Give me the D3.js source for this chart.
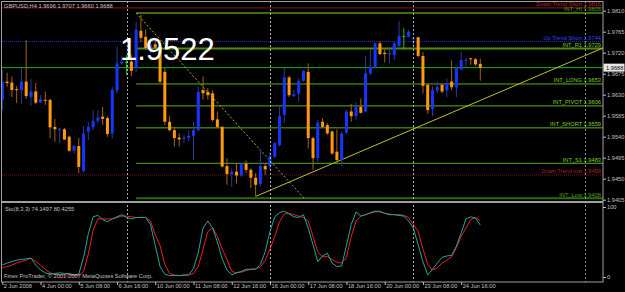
<!DOCTYPE html>
<html lang="en">

<head>
    <meta charset="UTF-8">
    <title>GBPUSD,H4</title>
    <script src="https://d3js.org/d3.v7.min.js"></script>
    <style>
        body { margin: 0; background: #000; }
        svg { display: block; }
        text { font-family: "Liberation Sans", Arial, sans-serif; }
    </style>
</head>

<body>
    <svg id="main" width="625" height="292"></svg>
    <script>
        // H4 bars, 2 Jun 16:00 .. 25 Jun 08:00
        const opens = [
            1.9619, 1.9658, 1.9656, 1.9642, 1.9640, 1.9658, 1.9625, 1.9637, 1.9614, 1.9619,
            1.9619, 1.9561, 1.9554, 1.9556, 1.9540, 1.9510, 1.9520, 1.9467, 1.9551, 1.9560,
            1.9574, 1.9583, 1.9580, 1.9547, 1.9639, 1.9697, 1.9700, 1.9701, 1.9687, 1.9767,
            1.9754, 1.9726, 1.9738, 1.9726, 1.9679, 1.9572, 1.9554, 1.9538, 1.9536, 1.9538,
            1.9542, 1.9554, 1.9640, 1.9636, 1.9633, 1.9577, 1.9561, 1.9477, 1.9460, 1.9465,
            1.9457, 1.9482, 1.9469, 1.9452, 1.9439, 1.9477, 1.9477, 1.9497, 1.9522, 1.9587,
            1.9667, 1.9627, 1.9632, 1.9660, 1.9679, 1.9537, 1.9494, 1.9572, 1.9565, 1.9551,
            1.9508, 1.9490, 1.9549, 1.9594, 1.9584, 1.9604, 1.9594, 1.9676, 1.9689, 1.9740,
            1.9720, 1.9717, 1.9715, 1.9734, 1.9756, 1.9754, 1.9749, 1.9753, 1.9713, 1.9651,
            1.9599, 1.9639, 1.9651, 1.9639, 1.9658, 1.9646, 1.9684, 1.9703, 1.9708, 1.9706,
            1.9696
        ];
        const highs = [
            1.9683, 1.9677, 1.9669, 1.9649, 1.9687, 1.9747, 1.9664, 1.9655, 1.9629, 1.9636,
            1.9621, 1.9578, 1.9559, 1.9559, 1.9542, 1.9522, 1.9537, 1.9563, 1.9572, 1.9596,
            1.9597, 1.9604, 1.9584, 1.9647, 1.9733, 1.9712, 1.9715, 1.9715, 1.9786, 1.9801,
            1.9770, 1.9747, 1.9744, 1.9732, 1.9687, 1.9584, 1.9561, 1.9547, 1.9544, 1.9554,
            1.9572, 1.9647, 1.9669, 1.9644, 1.9640, 1.9594, 1.9563, 1.9494, 1.9472, 1.9483,
            1.9483, 1.9489, 1.9472, 1.9462, 1.9512, 1.9483, 1.9508, 1.9529, 1.9604, 1.9687,
            1.9670, 1.9640, 1.9665, 1.9683, 1.9697, 1.9540, 1.9576, 1.9580, 1.9569, 1.9554,
            1.9556, 1.9551, 1.9597, 1.9610, 1.9613, 1.9622, 1.9713, 1.9726, 1.9742, 1.9744,
            1.9727, 1.9726, 1.9744, 1.9788, 1.9772, 1.9769, 1.9754, 1.9754, 1.9722, 1.9655,
            1.9649, 1.9658, 1.9653, 1.9665, 1.9703, 1.9690, 1.9722, 1.9709, 1.9709, 1.9709,
            1.9707
        ];
        const lows = [
            1.9597, 1.9647, 1.9625, 1.9612, 1.9610, 1.9621, 1.9606, 1.9610, 1.9612, 1.9608,
            1.9537, 1.9529, 1.9527, 1.9533, 1.9508, 1.9504, 1.9462, 1.9463, 1.9533, 1.9554,
            1.9569, 1.9565, 1.9540, 1.9537, 1.9633, 1.9694, 1.9672, 1.9670, 1.9679, 1.9743,
            1.9726, 1.9719, 1.9726, 1.9655, 1.9565, 1.9551, 1.9519, 1.9519, 1.9526, 1.9529,
            1.9490, 1.9551, 1.9619, 1.9620, 1.9572, 1.9558, 1.9474, 1.9437, 1.9433, 1.9440,
            1.9454, 1.9462, 1.9430, 1.9412, 1.9434, 1.9458, 1.9469, 1.9494, 1.9519, 1.9570,
            1.9625, 1.9625, 1.9615, 1.9658, 1.9515, 1.9469, 1.9486, 1.9559, 1.9544, 1.9501,
            1.9483, 1.9477, 1.9546, 1.9572, 1.9576, 1.9590, 1.9592, 1.9672, 1.9687, 1.9715,
            1.9699, 1.9697, 1.9704, 1.9733, 1.9727, 1.9753, 1.9733, 1.9710, 1.9632, 1.9589,
            1.9584, 1.9634, 1.9633, 1.9625, 1.9640, 1.9625, 1.9683, 1.9689, 1.9694, 1.9692,
            1.9660
        ];
        const closes = [
            1.9657, 1.9655, 1.9640, 1.9640, 1.9658, 1.9627, 1.9637, 1.9613, 1.9620, 1.9618,
            1.9560, 1.9556, 1.9557, 1.9534, 1.9510, 1.9520, 1.9475, 1.9547, 1.9561, 1.9574,
            1.9581, 1.9578, 1.9546, 1.9640, 1.9697, 1.9701, 1.9700, 1.9681, 1.9769, 1.9752,
            1.9730, 1.9737, 1.9731, 1.9658, 1.9572, 1.9554, 1.9537, 1.9534, 1.9539, 1.9542,
            1.9554, 1.9636, 1.9633, 1.9629, 1.9576, 1.9561, 1.9476, 1.9460, 1.9465, 1.9457,
            1.9482, 1.9469, 1.9452, 1.9437, 1.9477, 1.9470, 1.9499, 1.9526, 1.9584, 1.9667,
            1.9629, 1.9631, 1.9660, 1.9681, 1.9537, 1.9494, 1.9570, 1.9561, 1.9547, 1.9504,
            1.9490, 1.9547, 1.9594, 1.9584, 1.9604, 1.9591, 1.9676, 1.9690, 1.9740, 1.9717,
            1.9717, 1.9719, 1.9740, 1.9756, 1.9756, 1.9765, 1.9751, 1.9713, 1.9649, 1.9597,
            1.9640, 1.9647, 1.9637, 1.9655, 1.9646, 1.9687, 1.9704, 1.9705, 1.9706, 1.9695,
            1.9688
        ];

        // Stochastic (8,3,3)
        const stochK = [
            17, 20, 22, 24, 25, 26, 27, 17, 10, 6,
            4, 5, 6, 5, 5, 3, 4, 28, 62, 86,
            88, 82, 79, 83, 86, 89, 85, 83, 85, 85,
            85, 75, 45, 15, 4, 2, 2, 2, 3, 3,
            12, 35, 70, 80, 70, 50, 26, 10, 3, 6,
            8, 11, 11, 11, 18, 36, 65, 86, 92, 94,
            90, 86, 85, 89, 70, 46, 22, 30, 34, 20,
            15, 16, 45, 75, 93, 87, 89, 92, 94, 94,
            91, 89, 89, 88, 87, 80, 70, 46, 22, 3,
            11, 20, 28, 30, 31, 44, 63, 83, 86, 84,
            74.1497
        ];
        const stochD = [
            13, 15, 17, 20, 22, 24, 27, 22, 17, 11,
            6, 4, 3, 3, 3, 2, 2, 8, 33, 67,
            83, 83, 83, 83, 85, 87, 87, 86, 85, 85,
            85, 80, 60, 45, 18, 5, 3, 2, 2, 3,
            5, 15, 40, 65, 70, 58, 40, 25, 8, 6,
            7, 9, 11, 12, 14, 24, 40, 58, 79, 90,
            91, 89, 87, 85, 80, 58, 36, 29, 29, 25,
            21, 20, 28, 58, 80, 87, 89, 91, 93, 93,
            91, 90, 89, 89, 88, 85, 75, 65, 40, 18,
            10, 13, 20, 24, 29, 42, 58, 70, 82, 85,
            80.4255
        ];

        const priceTicks = [1.9810, 1.9765, 1.9720, 1.9675, 1.9630, 1.9585, 1.9540, 1.9495, 1.9450, 1.9405];
        const dateLabels = ['2 Jun 2008', '4 Jun 00:00', '5 Jun 08:00', '6 Jun 16:00', '10 Jun 00:00',
            '11 Jun 08:00', '12 Jun 16:00', '16 Jun 00:00', '17 Jun 08:00', '18 Jun 16:00',
            '20 Jun 00:00', '23 Jun 08:00', '24 Jun 16:00'];
        const dateBars = [0, 8, 16, 24, 32, 40, 48, 56, 64, 72, 80, 88, 96];
        const weekBars = [26, 56, 86];
        const shiftBar = 122;

        const levelNames = ['Down Trend Short', 'INT_HI', 'Up Trend Short', 'INT_R1', 'INT_LONG',
            'INT_PIVOT', 'INT_SHORT', 'INT_S1', 'Down Trend low', 'INT_Low'];
        const levelPrices = [1.9816, 1.9805, 1.9744, 1.9729, 1.9653, 1.9606, 1.9559, 1.9483, 1.9458, 1.9408];
        const levelStart = [null, 28, null, 28, 28, 28, 28, 28, null, 28];
        const bidLine = 1.9688;
        const bigLabel = '1.9522';

        const downTrend = [[28, 1.9805], [63.4, 1.9405]];
        const upTrend = [[53, 1.9412], [125.4, 1.9729]];

        const svg = d3.select('#main');
        const fs = 5.7;
        const axisCol = '#c0c0c0';

        svg.append('rect')
            .attr('width', 625)
            .attr('height', 292)
            .attr('fill', '#000');

        const x = d3.scaleLinear().domain([0, 100]).range([2.3, 480.3]);
        const y = d3.scaleLinear().domain([1.9405, 1.9810]).range([199.7, 10.7]);
        const ys = d3.scaleLinear().domain([0, 100]).range([277, 207]);

        svg.append('clipPath').attr('id', 'clipMain')
            .append('rect').attr('x', 2).attr('y', 1).attr('width', 601).attr('height', 200);
        svg.append('clipPath').attr('id', 'clipSto')
            .append('rect').attr('x', 2).attr('y', 203).attr('width', 601).attr('height', 79);

        const main = svg.append('g').attr('clip-path', 'url(#clipMain)');

        // period separators
        weekBars.concat([shiftBar]).forEach(b => {
            svg.append('line')
                .attr('x1', Math.round(x(b)) + 0.5).attr('x2', Math.round(x(b)) + 0.5)
                .attr('y1', 1).attr('y2', 282)
                .attr('stroke', b === shiftBar ? '#909090' : '#b0b0b0')
                .attr('stroke-dasharray', '2,2')
                .attr('stroke-width', 1);
        });

        // horizontal levels
        const lineStyle = {
            'Down Trend Short': { c: '#8e1414', t: '#b42828', w: 1, d: null },
            'INT_HI': { c: '#3d6e08', t: '#4f9a10', w: 2, d: null },
            'Up Trend Short': { c: '#2626c8', t: '#3048f0', w: 1, d: '1,1' },
            'INT_R1': { c: '#4f8a08', t: '#78c81c', w: 2, d: null },
            'Down Trend low': { c: '#7a1414', t: '#a82020', w: 1, d: '1,1' },
            'INT_Low': { c: '#2f6a08', t: '#54a014', w: 2, d: null }
        };
        const defStyle = { c: '#5cb010', t: '#80d028', w: 1, d: null };

        main.append('line')
            .attr('x1', 2).attr('x2', 603)
            .attr('y1', y(bidLine)).attr('y2', y(bidLine))
            .attr('stroke', '#10b810')
            .attr('stroke-width', 1);

        levelPrices.forEach((p, i) => {
            const st = lineStyle[levelNames[i]] || defStyle;
            const x0 = levelStart[i] === null ? 2 : x(levelStart[i]);
            main.append('line')
                .attr('x1', x0).attr('x2', 603)
                .attr('y1', y(p)).attr('y2', y(p))
                .attr('stroke', st.c)
                .attr('stroke-width', st.w)
                .attr('stroke-dasharray', st.d);
            svg.append('text')
                .attr('x', 601)
                .attr('y', y(p) - 1.8)
                .attr('text-anchor', 'end')
                .attr('font-size', fs)
                .attr('fill', st.t)
                .text(levelNames[i] + '  ' + p.toFixed(4));
        });

        // trend lines
        function extend(pts, x2) {
            const [a, b] = pts;
            const k = (b[1] - a[1]) / (b[0] - a[0]);
            return [a, [x2, a[1] + k * (x2 - a[0])]];
        }
        main.append('line')
            .attr('x1', x(downTrend[0][0])).attr('y1', y(downTrend[0][1]))
            .attr('x2', x(downTrend[1][0])).attr('y2', y(downTrend[1][1]))
            .attr('stroke', '#b0b028')
            .attr('stroke-dasharray', '2,2')
            .attr('stroke-width', 1);
        const up = extend(upTrend, 130);
        main.append('line')
            .attr('x1', x(up[0][0])).attr('y1', y(up[0][1]))
            .attr('x2', x(up[1][0])).attr('y2', y(up[1][1]))
            .attr('stroke', '#c0c030')
            .attr('stroke-width', 1);

        // candles
        const bars = d3.range(opens.length);
        const colUp = '#1636ff', colDn = '#ff9a10', colDoji = '#20c020';
        const candle = main.selectAll('g.candle')
            .data(bars)
            .enter().append('g')
            .attr('class', 'candle');
        candle.append('line')
            .attr('x1', i => x(i)).attr('x2', i => x(i))
            .attr('y1', i => y(highs[i])).attr('y2', i => y(lows[i]))
            .attr('stroke', i => closes[i] > opens[i] ? '#2a3c96' : closes[i] < opens[i] ? '#a0640e' : colDoji)
            .attr('stroke-width', 1);
        candle.append('rect')
            .attr('x', i => x(i) - 1.5)
            .attr('width', 3)
            .attr('y', i => y(Math.max(opens[i], closes[i])))
            .attr('height', i => Math.max(1, Math.abs(y(opens[i]) - y(closes[i]))))
            .attr('fill', i => closes[i] > opens[i] ? colUp : closes[i] < opens[i] ? colDn : colDoji);

        // big text object
        svg.append('text')
            .attr('x', 120)
            .attr('y', 60)
            .attr('font-size', 31)
            .attr('fill', '#fff')
            .text(bigLabel);

        // stochastic
        const sto = svg.append('g').attr('clip-path', 'url(#clipSto)');
        const stoLine = d3.line().x((d, i) => x(i)).y(d => ys(d));
        sto.append('path')
            .datum(stochD)
            .attr('d', stoLine)
            .attr('fill', 'none')
            .attr('stroke', '#f01e1e')
            .attr('stroke-width', 1);
        sto.append('path')
            .datum(stochK)
            .attr('d', stoLine)
            .attr('fill', 'none')
            .attr('stroke', '#20a8a0')
            .attr('stroke-width', 1);

        // frames
        svg.append('rect')
            .attr('x', 1.5).attr('y', 1.5).attr('width', 601.5).attr('height', 200)
            .attr('fill', 'none').attr('stroke', '#a0a0a0');
        svg.append('rect')
            .attr('x', 1.5).attr('y', 202.5).attr('width', 601.5).attr('height', 79.5)
            .attr('fill', 'none').attr('stroke', '#a0a0a0');

        // axes
        const yAxis = svg.append('g')
            .attr('transform', 'translate(603,0)')
            .call(d3.axisRight(y).tickValues(priceTicks).tickFormat(d3.format('.4f')).tickSize(3).tickPadding(1));
        const sAxis = svg.append('g')
            .attr('transform', 'translate(603,0)')
            .call(d3.axisRight(ys).tickValues([0, 100]).tickSize(3).tickPadding(1));
        const xAxis = svg.append('g')
            .attr('transform', 'translate(0,282)')
            .call(d3.axisBottom(x).tickValues(dateBars).tickFormat((d, i) => dateLabels[i]).tickSize(3).tickPadding(0));
        xAxis.selectAll('text').attr('text-anchor', 'start').attr('dx', 1).attr('dy', '0.6em');
        [yAxis, sAxis, xAxis].forEach(a => {
            a.selectAll('.domain').remove();
            a.selectAll('line').attr('stroke', axisCol);
            a.selectAll('text')
                .attr('fill', axisCol)
                .attr('font-size', fs)
                .attr('font-family', '"Liberation Sans", Arial, sans-serif');
        });

        // bid price box
        svg.append('rect')
            .attr('x', 603.5).attr('y', y(closes[closes.length - 1]) - 4)
            .attr('width', 21).attr('height', 8)
            .attr('fill', '#e8e8e8');
        svg.append('text')
            .attr('x', 606)
            .attr('y', y(closes[closes.length - 1]) + 2)
            .attr('font-size', fs)
            .attr('fill', '#000')
            .text(closes[closes.length - 1].toFixed(4));

        // captions
        svg.append('text')
            .attr('x', 4).attr('y', 8)
            .attr('font-size', fs).attr('fill', axisCol)
            .text('GBPUSD,H4  ' + [opens, highs, lows, closes].map(a => a[a.length - 1].toFixed(4)).join(' '));
        svg.append('text')
            .attr('x', 5).attr('y', 211)
            .attr('font-size', fs).attr('fill', axisCol)
            .text('Sto(8,3,3) ' + stochK[stochK.length - 1].toFixed(4) + ' ' + stochD[stochD.length - 1].toFixed(4));
        svg.append('text')
            .attr('x', 4).attr('y', 278)
            .attr('font-size', fs).attr('fill', axisCol)
            .text('Finex ProTrader, \u00a9 2001-2007 MetaQuotes Software Corp.');
    </script>
</body>

</html>
